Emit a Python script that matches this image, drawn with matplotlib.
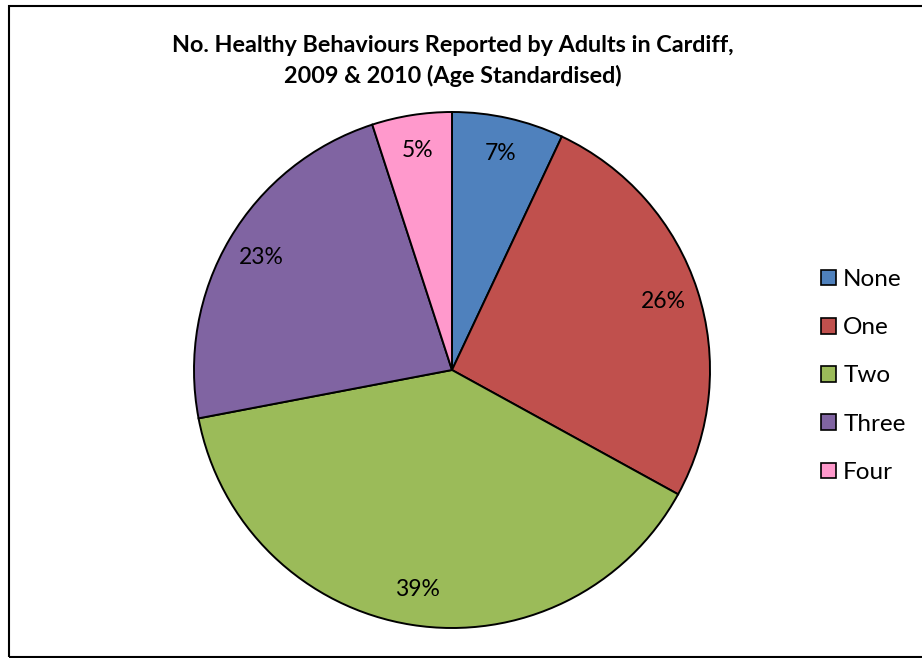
import matplotlib
matplotlib.use("Agg")
import matplotlib.pyplot as plt
from matplotlib.patches import Rectangle

plt.rcParams['font.family'] = ['Lato', 'DejaVu Sans']

categories = ["None", "One", "Two", "Three", "Four"]
values = [7, 26, 39, 23, 5]
colors = ["#4F81BD", "#C0504D", "#9BBB59", "#8064A2", "#FF99CC"]
title = "No. Healthy Behaviours Reported by Adults in Cardiff,\n2009 & 2010 (Age Standardised)"

W, H = 922, 658
fig = plt.figure(figsize=(W / 100, H / 100), dpi=100)

# outer frame
fig.add_artist(Rectangle((9 / W, 1 - 657 / H), (W + 10 - 9) / W, (657 - 6) / H,
                         transform=fig.transFigure, fill=False, edgecolor="black",
                         linewidth=1.5, clip_on=False))

cx, cy, r = 452, 370, 258
ax = fig.add_axes([(cx - r) / W, (H - cy - r) / H, 2 * r / W, 2 * r / H])
wedges, texts, autotexts = ax.pie(
    values, colors=colors, startangle=90, counterclock=False,
    autopct=lambda p: f"{p:.0f}%", pctdistance=0.86,
    wedgeprops=dict(edgecolor="black", linewidth=1.4),
    textprops=dict(fontsize=16.5, color="black"))
ax.set_xlim(-1, 1)
ax.set_ylim(-1, 1)
ax.set_aspect("equal")
ax.axis("off")

fig.text(453 / W, 1 - 61 / H, title, ha="center", va="center",
         fontsize=16.8, fontweight="bold", linespacing=1.45)

leg = fig.legend(wedges, categories, loc="center left",
                 bbox_to_anchor=(799 / W, 1 - 376 / H), frameon=False,
                 fontsize=17.5, handlelength=0.62, handleheight=0.62,
                 handletextpad=0.3, labelspacing=1.12)
for h in leg.legend_handles:
    h.set_linewidth(1.2)

fig.savefig("out.png", dpi=100)
